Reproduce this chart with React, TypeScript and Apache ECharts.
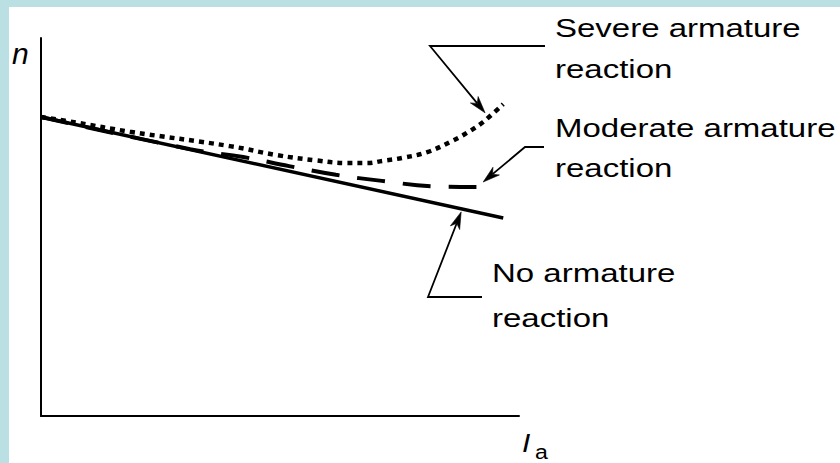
import { useEffect, useRef } from "react";
import * as echarts from "echarts";

// Speed n versus armature current Ia for a DC shunt motor (arbitrary units, 0–100)
const noReactionX = [0, 96.7];
const noReactionY = [79.1, 52.4];

const moderateX = [0, 31.2, 42.3, 51.9, 61.7, 71.3, 81.6, 91.4, 94.4];
const moderateY = [79.1, 70.6, 68.5, 66.1, 63.8, 62.2, 60.8, 60.6, 60.6];

const severeX = [0, 7.5, 18.6, 39.5, 49.4, 57.7, 64.0, 68.2, 71.5, 75.7, 80.8, 85.6, 89.1, 92.5, 96.7];
const severeY = [79.1, 77.6, 75.2, 71.4, 69.0, 67.6, 66.9, 66.9, 67.5, 68.3, 69.8, 72.5, 74.9, 77.8, 82.5];

// Callout labels and the curve points their arrows point at
const calloutLines = [
  ["Severe armature", "reaction"],
  ["Moderate armature", "reaction"],
  ["No armature", "reaction"],
];
const calloutTips = [
  [92.9, 80.2],
  [92.5, 61.9],
  [87.9, 54.0],
];

const pairs = (xs: number[], ys: number[]) => xs.map((x, i) => [x, ys[i]]);

const FONT = "'Liberation Sans', Arial, Helvetica, sans-serif";
const BORDER_BLUE = "#bae0e3";

export default function App() {
  const ref = useRef<HTMLDivElement>(null);

  useEffect(() => {
    if (!ref.current) return;
    const chart = echarts.init(ref.current, undefined, { renderer: "svg" });

    const axisCommon = {
      type: "value" as const,
      min: 0,
      max: 100,
      axisLine: { show: true, onZero: false, lineStyle: { color: "#000", width: 2 } },
      axisTick: { show: false },
      axisLabel: { show: false },
      splitLine: { show: false },
    };

    chart.setOption({
      animation: false,
      backgroundColor: "#ffffff",
      grid: { left: 41, right: 321, top: 38, bottom: 47 },
      xAxis: axisCommon,
      yAxis: axisCommon,
      series: [
        {
          name: "No armature reaction",
          type: "line",
          data: pairs(noReactionX, noReactionY),
          showSymbol: false,
          symbol: "none",
          lineStyle: { color: "#000", width: 3.5 },
          z: 3,
        },
        {
          name: "Moderate armature reaction",
          type: "line",
          data: pairs(moderateX, moderateY),
          smooth: 0.4,
          symbol: "none",
          lineStyle: { color: "#000", width: 4, type: [28, 18], cap: "butt" },
          z: 2,
        },
        {
          name: "Severe armature reaction",
          type: "line",
          data: pairs(severeX, severeY),
          smooth: 0.4,
          symbol: "none",
          lineStyle: { color: "#000", width: 4.5, type: [5, 5], cap: "butt" },
          z: 2,
        },
      ],
    });

    // Leader elbows (horizontal run end, elbow) and label anchors, in pixels
    const elbows = [
      { h: [545, 46], e: [430, 46] },
      { h: [544, 147], e: [525, 147] },
      { h: [482, 297], e: [428, 297] },
    ];
    const labelPos = [
      { x: 555, y: [28.5, 69.5] },
      { x: 555, y: [128, 168.5] },
      { x: 492, y: [273.5, 318.5] },
    ];

    const graphics: any[] = [
      { type: "rect", shape: { x: 0, y: 0, width: 840, height: 7 }, style: { fill: BORDER_BLUE }, z: 100 },
      { type: "rect", shape: { x: 0, y: 0, width: 9, height: 463 }, style: { fill: BORDER_BLUE }, z: 100 },
      {
        type: "text",
        x: 12,
        y: 53,
        style: { text: "n", font: `italic 30px ${FONT}`, fill: "#000", align: "left", verticalAlign: "middle" },
      },
      {
        type: "text",
        x: 522,
        y: 443,
        scaleX: 1.15,
        style: { text: "I", font: `italic 26px ${FONT}`, fill: "#000", align: "left", verticalAlign: "middle" },
      },
      {
        type: "text",
        x: 535,
        y: 452,
        scaleX: 1.1,
        style: { text: "a", font: `21px ${FONT}`, fill: "#000", align: "left", verticalAlign: "middle" },
      },
    ];

    calloutTips.forEach((tipData, i) => {
      const tip = chart.convertToPixel({ gridIndex: 0 }, tipData) as number[];
      const { h, e } = elbows[i];
      const dx = tip[0] - e[0];
      const dy = tip[1] - e[1];
      const d = Math.hypot(dx, dy);
      const ux = dx / d;
      const uy = dy / d;
      const px = -uy;
      const py = ux;
      const len = 17;
      const wid = 10;
      const bx = tip[0] - ux * len;
      const by = tip[1] - uy * len;
      const notch = [tip[0] - ux * len * 0.72, tip[1] - uy * len * 0.72];
      graphics.push({
        type: "polyline",
        shape: { points: [h, e, notch] },
        style: { stroke: "#000", lineWidth: 1.8, fill: null },
        z: 10,
      });
      graphics.push({
        type: "polygon",
        shape: {
          points: [
            tip,
            [bx + (px * wid) / 2, by + (py * wid) / 2],
            notch,
            [bx - (px * wid) / 2, by - (py * wid) / 2],
          ],
        },
        style: { fill: "#000", stroke: "#000", lineWidth: 0.6 },
        z: 10,
      });
      calloutLines[i].forEach((line, j) => {
        graphics.push({
          type: "text",
          x: labelPos[i].x,
          y: labelPos[i].y[j],
          scaleX: 1.32,
          style: {
            text: line,
            font: `25px ${FONT}`,
            fill: "#000",
            align: "left",
            verticalAlign: "middle",
          },
          z: 10,
        });
      });
    });

    chart.setOption({ graphic: graphics });

    return () => chart.dispose();
  }, []);

  return (
    <div
      ref={ref}
      style={{ position: "fixed", left: 0, top: 0, width: 840, height: 463, background: "#fff" }}
    />
  );
}
